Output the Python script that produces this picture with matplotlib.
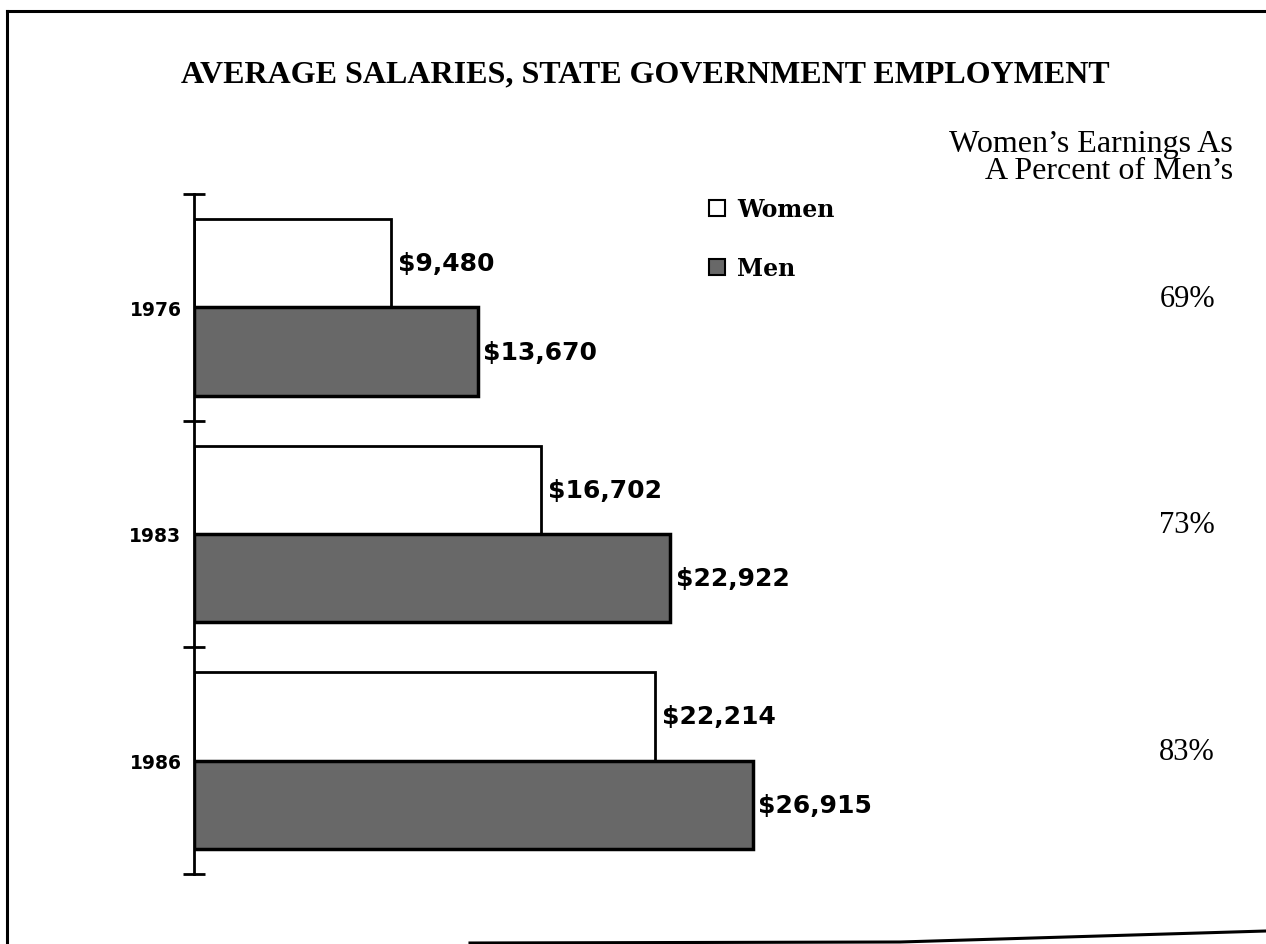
import matplotlib
matplotlib.use("Agg")
import matplotlib.pyplot as plt
from matplotlib.lines import Line2D
from matplotlib.patches import Patch
import numpy as np

# data
years = ["1976", "1983", "1986"]
women = [9480, 16702, 22214]
men = [13670, 22922, 26915]
pct = ["69%", "73%", "83%"]

title = "AVERAGE SALARIES, STATE GOVERNMENT EMPLOYMENT"
side_head = "Women\u2019s Earnings As\nA Percent of Men\u2019s"

MEN_GRAY = "#686868"

fig = plt.figure(figsize=(12.66, 9.45), dpi=100)
fig.patch.set_facecolor("white")

ax = fig.add_axes([194 / 1266, 1 - 875 / 945, 623 / 1266, 680 / 945])

y = np.arange(len(years))
h = 0.39
ax.barh(y - h / 2, women, height=h, color="white", edgecolor="black", linewidth=2)
ax.barh(y + h / 2, men, height=h, color=MEN_GRAY, edgecolor="black", linewidth=2.5)

# value labels just past bar ends
for i in range(len(years)):
    ax.annotate("$" + format(women[i], ","), (women[i], y[i] - h / 2),
                xytext=(5, 0), textcoords="offset points", va="center", ha="left",
                fontsize=18, fontweight="bold", family="DejaVu Sans")
    ax.annotate("$" + format(men[i], ","), (men[i], y[i] + h / 2),
                xytext=(4, 0), textcoords="offset points", va="center", ha="left",
                fontsize=18, fontweight="bold", family="DejaVu Sans")

ax.set_xlim(0, 30000)
ax.set_ylim(len(years) - 0.5, -0.5)
ax.set_xticks([])
ax.set_yticks(y)
ax.set_yticklabels(years, fontsize=13.5, fontweight="bold", family="DejaVu Sans")
ax.tick_params(axis="y", which="major", length=0, pad=9)
ax.set_yticks(np.arange(len(years) + 1) - 0.5, minor=True)
ax.tick_params(axis="y", which="minor", direction="inout", length=16, width=2)
for s in ["top", "right", "bottom"]:
    ax.spines[s].set_visible(False)
ax.spines["left"].set_linewidth(2)
ax.set_facecolor("none")

# percent column on the right
tr = matplotlib.transforms.blended_transform_factory(fig.transFigure, ax.transData)
for i, p in enumerate(pct):
    ax.text(1215 / 1266, y[i] - 0.04, p, transform=tr, ha="right", va="center",
            fontsize=22, family="Liberation Serif")

fig.text(0.51, 1 - 75 / 945, title, ha="center", va="center",
         fontsize=23, fontweight="bold", family="Liberation Serif")
fig.text(1233 / 1266, 1 - 158 / 945, side_head, ha="right", va="center",
         fontsize=23, family="Liberation Serif", linespacing=0.88)

handles = [Patch(facecolor="white", edgecolor="black", linewidth=1.5, label="Women"),
           Patch(facecolor=MEN_GRAY, edgecolor="black", linewidth=1.5, label="Men")]
fig.legend(handles=handles, loc="upper left", bbox_to_anchor=(709 / 1266, 1 - 198 / 945),
           frameon=False, borderpad=0, borderaxespad=0, handlelength=0.68, handleheight=0.68,
           handletextpad=0.5, labelspacing=1.5,
           prop={"family": "DejaVu Serif", "weight": "bold", "size": 17})

# frame around the page
fig.add_artist(Line2D([7 / 1266, 1], [1 - 12 / 945, 1 - 12 / 945], color="black", lw=2.2))
fig.add_artist(Line2D([7 / 1266, 7 / 1266], [1 - 12 / 945, 0], color="black", lw=2.2))
fig.add_artist(Line2D([470 / 1266, 900 / 1266, 1], [1 - 944 / 945, 1 - 943 / 945, 1 - 932 / 945],
                      color="black", lw=2.2))

fig.savefig("out.png", dpi=100)
